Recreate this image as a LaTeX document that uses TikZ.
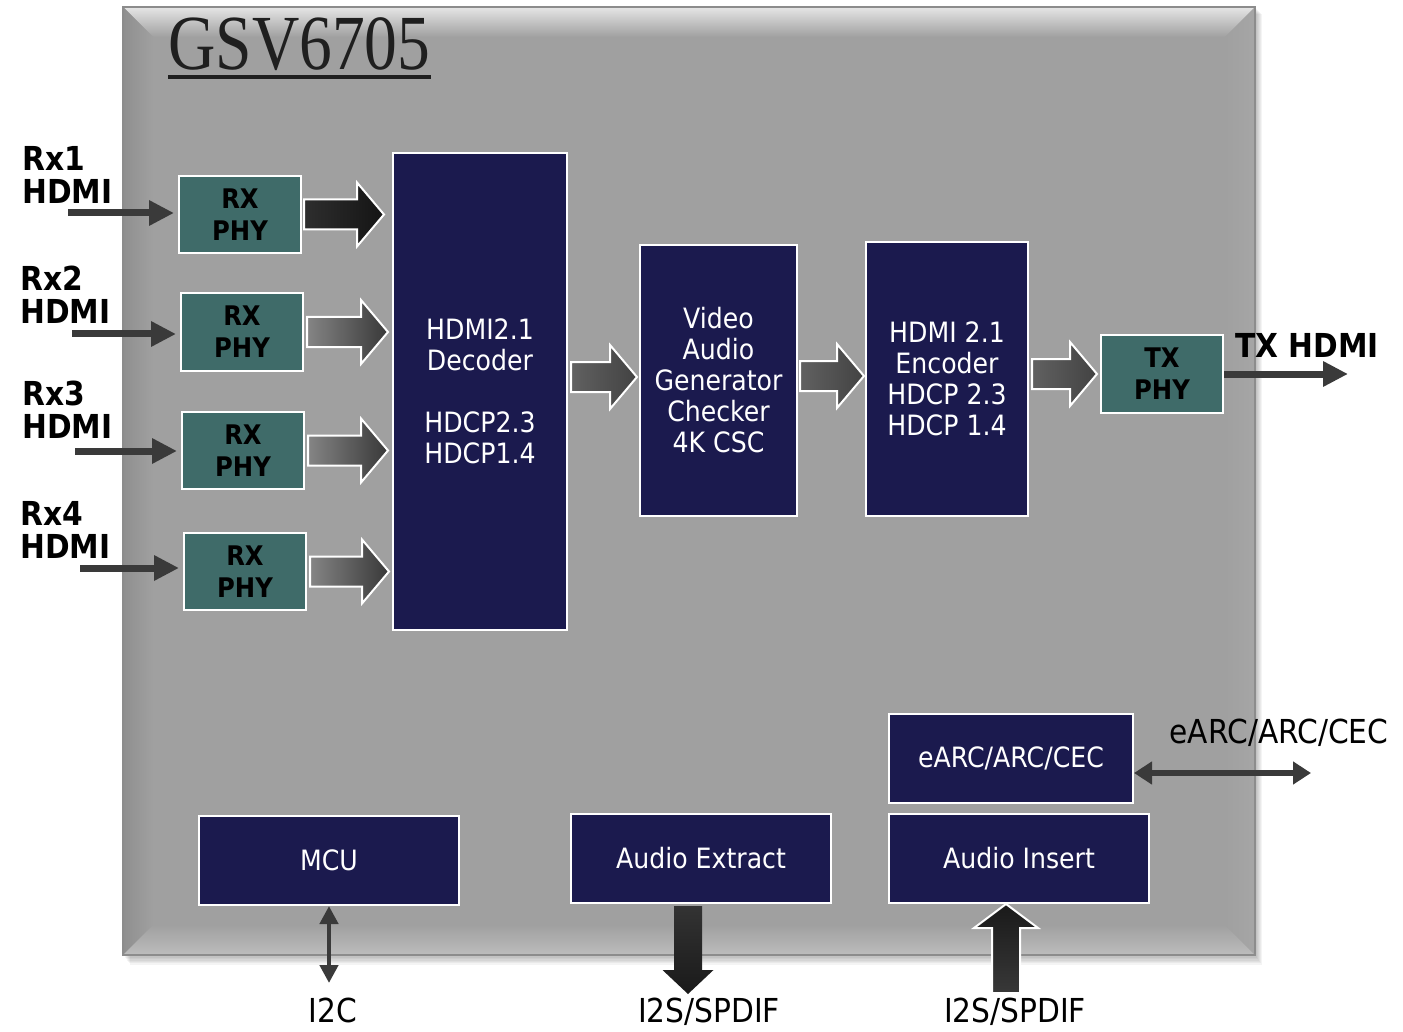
\documentclass[tikz,border=0pt]{standalone}
\usepackage{fontspec}
\setmainfont{DejaVu Sans}[FakeStretch=0.9]
\newfontfamily\titlefont{Liberation Serif}[FakeStretch=0.84]
\usetikzlibrary{arrows.meta,calc,positioning}
\definecolor{chipgray}{HTML}{A0A0A0}
\definecolor{chipblue}{HTML}{1B1A4E}
\definecolor{phyteal}{HTML}{3F6B69}
\definecolor{wiregray}{HTML}{3A3A3A}

% fat block arrows
\newcommand{\hfat}[3]{%
  \draw[#1] let \p1=#2, \p2=#3 in
    (\x1,\y1+7.5pt) -- (\x2-13.5pt,\y1+7.5pt) -- (\x2-13.5pt,\y1+16pt) -- (\x2,\y1)
    -- (\x2-13.5pt,\y1-16pt) -- (\x2-13.5pt,\y1-7.5pt) -- (\x1,\y1-7.5pt) -- cycle;}
\newcommand{\vfat}[4]{%
  \draw[#1] let \p1=#2, \p2=#3, \p3=($#3!12pt!#2$) in
    (\x1-7pt,\y1) -- (\x1-7pt,\y3) -- (\x1-#4,\y3) -- (\x1,\y2)
    -- (\x1+#4,\y3) -- (\x1+7pt,\y3) -- (\x1+7pt,\y1) -- cycle;}

\tikzset{
  block/.style={draw=white, line width=1pt, fill=chipblue, text=white, align=center,
    inner sep=0pt, font=\fontsize{14}{15.5}\selectfont},
  phy/.style={draw=white, line width=1pt, fill=phyteal, align=center, inner sep=0pt,
    minimum width=61pt, minimum height=38.5pt, font=\bfseries\fontsize{13.5}{16}\selectfont},
  portlbl/.style={align=left, inner sep=0pt, anchor=north west, font=\bfseries\fontsize{16.5}{16.5}\selectfont},
  extlbl/.style={inner sep=0pt, font=\fontsize{16.5}{18}\selectfont},
  wire/.style={draw=wiregray, line width=3.5pt, -{Triangle[length=12.5pt,width=12pt]}},
  busdark/.style={draw=white, line width=1pt, left color=black!82, right color=black!92},
  busgray/.style={draw=white, line width=1pt, left color=black!48, right color=black!78},
  busmid/.style={draw=white, line width=1pt, left color=black!62, right color=black!74},
}

\begin{document}
\begin{tikzpicture}[x=0.5pt, y=-0.5pt]
  \useasboundingbox (0,0) rectangle (1403,1032);

  % Chip body
  \foreach \d in {1,...,7}
    \fill[black, opacity=0.045] (123+\d,7+\d) rectangle (1255+\d,955+1.4*\d);
  \fill[chipgray] (123,7) rectangle (1255,955);
  \shade[top color=black!10, bottom color=chipgray] (123,7) -- (1255,7) -- (1225,37) -- (153,37) -- cycle;
  \shade[left color=black!44, right color=chipgray] (123,7) -- (153,37) -- (153,925) -- (123,955) -- cycle;
  \shade[top color=chipgray, bottom color=black!26] (123,955) -- (153,925) -- (1225,925) -- (1255,955) -- cycle;
  \shade[left color=chipgray, right color=black!35] (1255,7) -- (1225,37) -- (1225,925) -- (1255,955) -- cycle;
  \draw[black!45, line width=0.6pt] (123,7) rectangle (1255,955);

  % Title
  \node[anchor=base west, inner sep=0pt, text=black!88, font=\titlefont\fontsize{39}{39}\selectfont]
    (title) at (168,70) {GSV6705};
  \draw[black!88, line width=2pt] ([yshift=-3.5pt]title.base west) -- ([yshift=-3.5pt]title.base east);

  % Define nodes
  \node[phy] (rx1) at (240,214.5) {RX\\PHY};
  \node[phy] (rx2) at (242,332)   {RX\\PHY};
  \node[phy] (rx3) at (243,450.5) {RX\\PHY};
  \node[phy] (rx4) at (245,571.5) {RX\\PHY};
  \node[block, minimum width=87pt, minimum height=238.5pt] (dec) at (480,391.5)
    {HDMI2.1\\Decoder\\[15.5pt]HDCP2.3\\HDCP1.4};
  \node[block, minimum width=78.5pt, minimum height=135.5pt] (vag) at (718.5,380.5)
    {Video\\Audio\\Generator\\Checker\\4K CSC};
  \node[block, minimum width=81pt, minimum height=137pt] (enc) at (947,379)
    {HDMI 2.1\\Encoder\\HDCP 2.3\\HDCP 1.4};
  \node[phy] (tx) at (1162,374) {TX\\PHY};
  \node[block, minimum width=122pt, minimum height=44.5pt] (arc) at (1011,758.5) {eARC/ARC/CEC};
  \node[block, minimum width=130pt, minimum height=44.5pt] (mcu) at (329,860.5) {MCU};
  \node[block, minimum width=130pt, minimum height=44.5pt] (aext) at (701,858.5) {Audio Extract};
  \node[block, minimum width=130pt, minimum height=44.5pt] (ains) at (1019,858.5) {Audio Insert};

  % Outside labels
  \node[portlbl] (l1) at (22,146) {Rx1\\HDMI};
  \node[portlbl] (l2) at (20,266) {Rx2\\HDMI};
  \node[portlbl] (l3) at (22,381) {Rx3\\HDMI};
  \node[portlbl] (l4) at (20,501) {Rx4\\HDMI};
  \node[portlbl, anchor=west] (ltx) at (1235,345) {TX HDMI};
  \node[extlbl] (larc) at (1279,733) {eARC/ARC/CEC};
  \node[extlbl] (li2c) at (333,1010) {I2C};
  \node[extlbl] (lout) at (709,1012) {I2S/SPDIF};
  \node[extlbl] (lin) at (1015,1012) {I2S/SPDIF};

  \coordinate (in1) at (68,213);
  \coordinate (in2) at (72,334);
  \coordinate (in3) at (75,451);
  \coordinate (in4) at (80,568);
  \coordinate (txout) at (1348,374);
  \coordinate (arcout) at (1311,773);
  \coordinate (i2c) at (329,983);
  \coordinate (sout) at (688,994);
  \coordinate (sin) at (1006,993);
  \coordinate (busa) at (0,377);
  \coordinate (busb) at (0,376);

  % Connect the nodes
  \draw[wire, shorten >=2pt] (in1) -- (rx1.west |- in1);
  \draw[wire, shorten >=2pt] (in2) -- (rx2.west |- in2);
  \draw[wire, shorten >=2pt] (in3) -- (rx3.west |- in3);
  \draw[wire, shorten >=2pt] (in4) -- (rx4.west |- in4);
  \draw[wire] (tx.east) -- (txout);
  \draw[draw=wiregray, line width=3pt, {Triangle[length=9pt,width=11pt]}-{Triangle[length=9pt,width=11pt]}]
    (arcout -| arc.east) -- (arcout);
  \draw[draw=wiregray, line width=2.2pt, {Triangle[length=9pt,width=9pt]}-{Triangle[length=9pt,width=9pt]}]
    (mcu.south) -- (i2c);

  \hfat{busdark}{([xshift=1pt]rx1.east)}{([xshift=-4pt]dec.west |- rx1.east)}
  \hfat{busgray}{([xshift=1.5pt]rx2.east)}{([xshift=-2pt]dec.west |- rx2.east)}
  \hfat{busgray}{([xshift=1.5pt]rx3.east)}{([xshift=-2pt]dec.west |- rx3.east)}
  \hfat{busgray}{([xshift=1.5pt]rx4.east)}{([xshift=-1.5pt]dec.west |- rx4.east)}
  \hfat{busmid}{([xshift=1.5pt]dec.east |- busa)}{([xshift=-1pt]vag.west |- busa)}
  \hfat{busmid}{([xshift=1pt]vag.east |- busb)}{([xshift=-0.5pt]enc.west |- busb)}
  \hfat{busmid}{([xshift=1.5pt]enc.east |- tx.west)}{([xshift=-1.5pt]tx.west)}
  \vfat{draw=none, top color=black!80, bottom color=black!90}{([yshift=-1pt]sout |- aext.south)}{(sout)}{12.75pt}
  \vfat{draw=white, line width=1pt, top color=black!90, bottom color=black!78}{(sin)}{(sin |- ains.south)}{16pt}

\end{tikzpicture}
\end{document}
